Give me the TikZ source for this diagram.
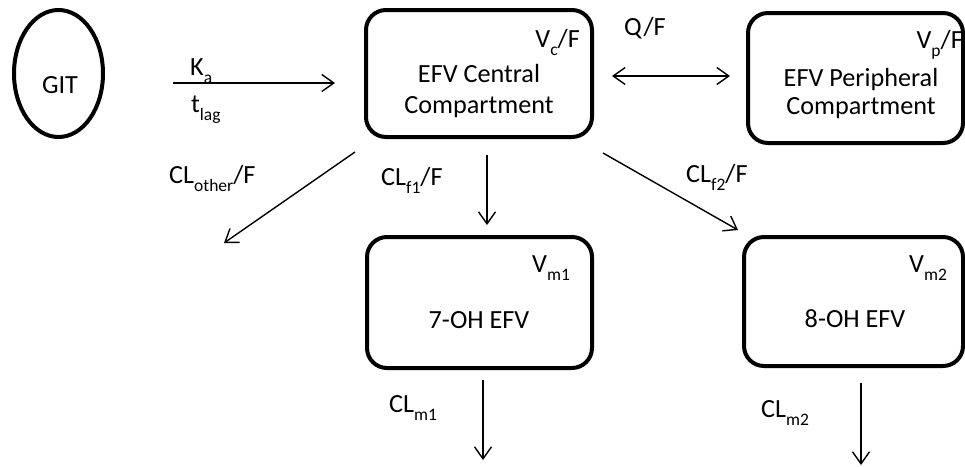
\documentclass[tikz,border=0pt]{standalone}
\usepackage{fontspec}
\setmainfont{Carlito}
\usetikzlibrary{arrows.meta,shapes.geometric}
\newcommand\lsub[1]{\raisebox{-0.34em}{\fontsize{17.5}{17.5}\selectfont #1}}
\newcommand\fsz{\fontsize{26.2}{31}\selectfont}
\begin{document}
\begin{tikzpicture}[x=1pt,y=-1pt,
  lbl/.style={inner sep=0pt, anchor=base west, font=\fsz},
  lble/.style={inner sep=0pt, anchor=base east, font=\fsz},
  ctr/.style={inner sep=0pt, anchor=base, font=\fsz},
  compbox/.style={draw, line width=4pt, rounded corners=20pt, inner sep=0pt},
  flow/.style={-{Straight Barb[length=12pt,width=17pt]}, line width=1.4pt},
  flow2/.style={{Straight Barb[length=12pt,width=17pt]}-{Straight Barb[length=12pt,width=17pt]}, line width=1.4pt}]
\useasboundingbox (0,0) rectangle (965,466);
\fill[white] (0,0) rectangle (965,466);
% GIT
\node[draw, ellipse, line width=4pt, minimum width=89pt, minimum height=127pt, inner sep=0pt] (git) at (58.5,73.5) {};
\node[ctr] (gitT) at (60,93) {GIT};
% central
\node[compbox, minimum width=226pt, minimum height=127pt] (cen) at (479,73.5) {};
\node[ctr] (cenT1) at (479,82) {EFV Central};
\node[ctr] (cenT2) at (479,113) {Compartment};
\node[lble] (vc) at (580,47) {V\lsub{c}/F};
% peripheral
\node[compbox, minimum width=215pt, minimum height=130pt] (per) at (855.5,78) {};
\node[ctr] (perT1) at (861,86) {EFV Peripheral};
\node[ctr] (perT2) at (861,114) {Compartment};
\node[lble] (vp) at (963,48) {V\lsub{p}/F};
% metabolites
\node[compbox, minimum width=225pt, minimum height=131pt] (m1) at (479.5,302.5) {};
\node[ctr] (m1T) at (479,328) {7-OH EFV};
\node[lbl] (vm1) at (532,272) {V\lsub{m1}};
\node[compbox, minimum width=219pt, minimum height=129pt] (m2) at (853.5,301.5) {};
\node[ctr] (m2T) at (855,327) {8-OH EFV};
\node[lbl] (vm2) at (909,272) {V\lsub{m2}};
% labels
\node[lbl] (ka) at (190,75) {K\lsub{a}};
\node[lbl] (tlag) at (191,112) {t\lsub{lag}};
\node[lbl] (qf) at (624,35) {Q/F};
\node[lbl] (clo) at (169,183) {CL\lsub{other}/F};
\node[lbl] (clf1) at (381,185) {CL\lsub{f1}/F};
\node[lbl] (clf2) at (686,182) {CL\lsub{f2}/F};
\node[lbl] (clm1) at (389,412) {CL\lsub{m1}};
\node[lbl] (clm2) at (761,417) {CL\lsub{m2}};
% connector ends
\coordinate (kaS) at (173,83);
\coordinate (kaE) at (335,83);
\coordinate (qS) at (612,76);
\coordinate (qE) at (730,76);
\coordinate (oS) at (355,152);
\coordinate (oE) at (224,243);
\coordinate (f1S) at (487,155);
\coordinate (f1E) at (487,225);
\coordinate (f2S) at (603,153);
\coordinate (f2E) at (738,230);
\coordinate (m1S) at (483,380);
\coordinate (m1E) at (483,460);
\coordinate (m2S) at (861,383);
\coordinate (m2E) at (861,465);
\draw[flow] (kaS) -- (kaE);
\draw[flow2] (qS) -- (qE);
\draw[flow] (oS) -- (oE);
\draw[flow] (f1S) -- (f1E);
\draw[flow] (f2S) -- (f2E);
\draw[flow] (m1S) -- (m1E);
\draw[flow] (m2S) -- (m2E);
\end{tikzpicture}
\end{document}
